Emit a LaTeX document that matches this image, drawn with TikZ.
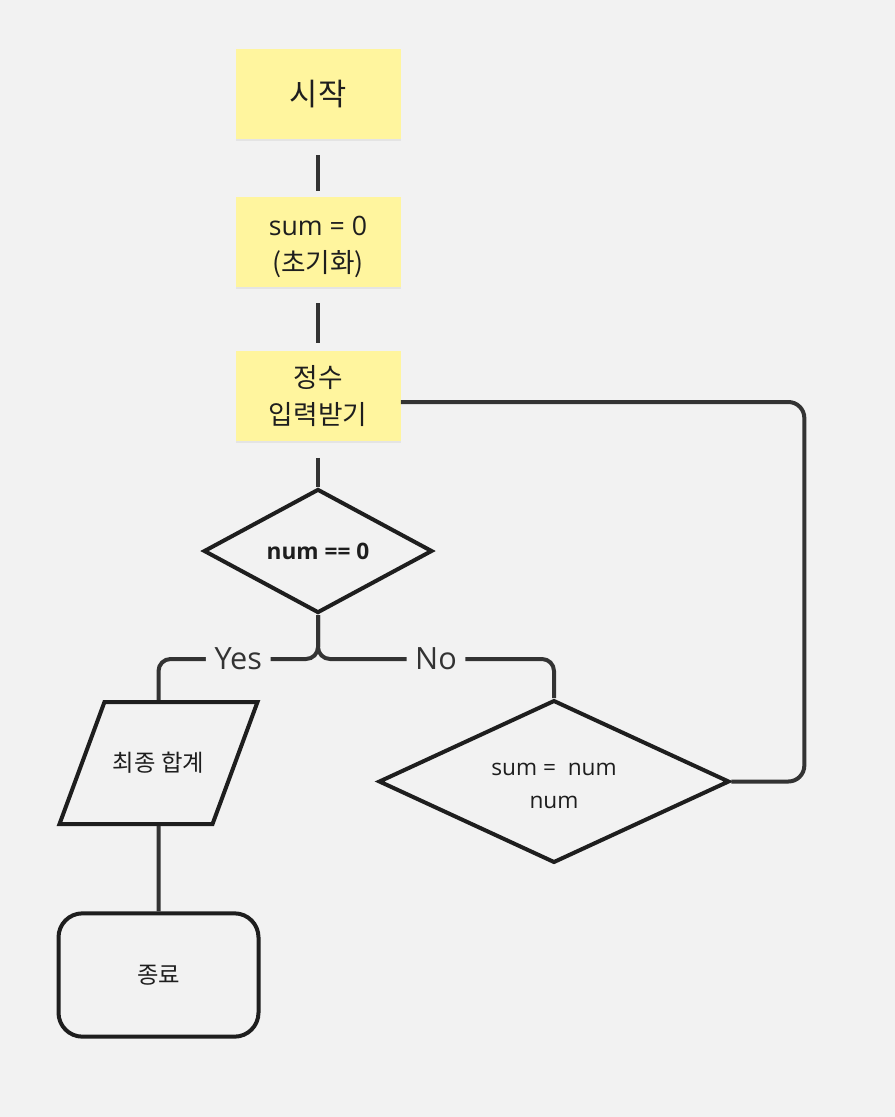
\documentclass[tikz,border=0pt]{standalone}
\usepackage{fontspec}
\setmainfont{Open Sans}
\newfontfamily\krfont{Noto Sans CJK KR}
\usetikzlibrary{shapes.geometric, shadows}
\definecolor{fcbg}{HTML}{F2F2F2}
\definecolor{fcnote}{HTML}{FFF59E}
\definecolor{fcink}{HTML}{1E1E1E}
\definecolor{fcwire}{HTML}{333333}
\newcommand{\kr}[1]{{\krfont #1}}
\tikzset{
  fcsticky/.style={fill=fcnote, minimum width=123.75pt, minimum height=67.5pt, align=center,
    text=fcink, font=\fontsize{20}{28}\selectfont,
    drop shadow={shadow xshift=0pt, shadow yshift=-1.5pt, opacity=0.12}},
  fcdecide/.style={diamond, aspect=2, draw=fcink, line width=3pt, inner sep=0pt, align=center, text=fcink},
  fcio/.style={trapezium, trapezium left angle=36, trapezium right angle=144, trapezium stretches=true,
    draw=fcink, line width=3pt, minimum width=148.5pt, minimum height=91.5pt, text=fcink,
    font=\fontsize{17.5}{21}\selectfont},
  fcterm/.style={rectangle, rounded corners=18pt, draw=fcink, line width=3pt, minimum width=150pt,
    minimum height=92.5pt, text=fcink, font=\fontsize{17.5}{21}\selectfont},
  fcconn/.style={draw=fcwire, line width=3pt},
  fclbl/.style={fill=fcbg, text=fcwire, font=\fontsize{23}{27}\selectfont, inner xsep=6.5pt, inner ysep=2pt},
}

\begin{document}
\begin{tikzpicture}[x=0.75pt, y=-0.75pt]
  \fill[fcbg] (0,0) rectangle (895,1117);

  \node[fcsticky, font=\fontsize{23}{27}\selectfont] (start) at (318,94) {\kr{시작}};
  \node[fcsticky] (init) at (318,242) {\rule{0pt}{22pt}sum = 0\\\kr{(초기화)}};
  \node[fcsticky] (read) at (318,396) {\kr{정수}\\\kr{입력받기}};
  \node[fcdecide, minimum width=171.5pt, minimum height=93pt,
    font=\bfseries\fontsize{17}{20}\selectfont] (zero) at (318,551) {num == 0};
  \node[fcio] (total) at (158.5,763) {\kr{최종 합계}};
  \node[fcterm] (stop) at (158.5,975) {\kr{종료}};
  \node[fcdecide, minimum width=263pt, minimum height=122pt,
    font=\fontsize{17}{25}\selectfont] (add) at (554,781.5) {\rule{0pt}{16pt}sum =\ \ num\\num};

  \draw[fcconn, shorten <=12pt, shorten >=4.5pt] (start) -- (init);
  \draw[fcconn, shorten <=12pt, shorten >=6pt] (init) -- (read);
  \draw[fcconn, shorten <=12.5pt] (read) -- (zero);
  \draw[fcconn, rounded corners=9pt] (zero.south) -- ++(0,44) -| node[fclbl, pos=0.25] {Yes} (total.north);
  \draw[fcconn, rounded corners=9pt] (zero.south) -- ++(0,44) -| node[fclbl, pos=0.25] {No} (add.north);
  \draw[fcconn] (total.south) -- (stop.north);
  \draw[fcconn, rounded corners=12pt] (add.east) -- ++(73,0) |- ([yshift=-4.5pt]read.east);
\end{tikzpicture}
\end{document}
